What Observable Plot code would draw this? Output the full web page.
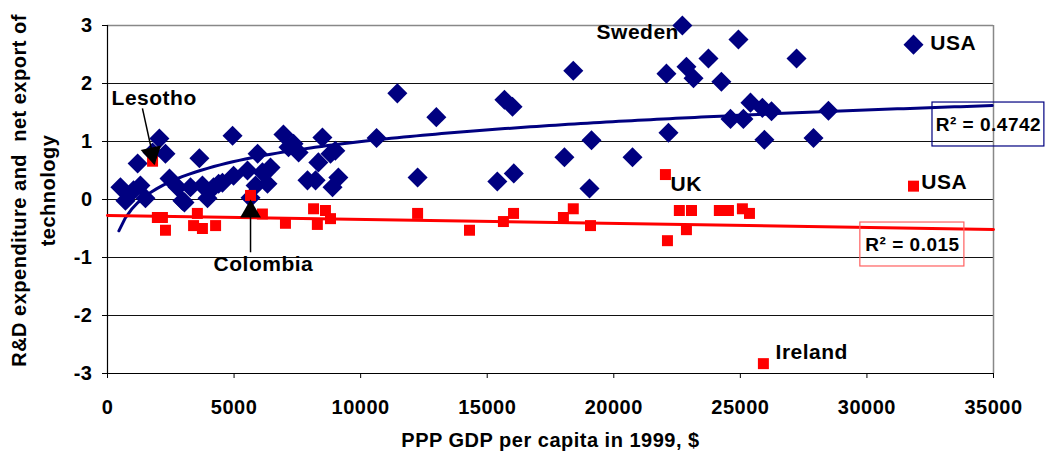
<!DOCTYPE html>
<html>
<head>
<meta charset="utf-8">
<script src="https://cdn.jsdelivr.net/npm/d3@7"></script>
<script src="https://cdn.jsdelivr.net/npm/@observablehq/plot@0.6"></script>
<style>
  html, body { margin: 0; padding: 0; background: #fff; }
  #chart svg { display: block; }
</style>
</head>
<body>
<div id="chart"></div>
<script>
// ---- Data ----
// Blue diamonds: R&D expenditure index
const blueGDP = [510, 710, 1030, 1190, 1300, 1500, 1780, 2050, 2290, 2450, 2770, 2960, 3040, 3280, 3630, 3750, 3950, 4190, 4390, 4540, 4980, 4940, 5530, 5650, 5850, 5930, 6120, 6320, 6440, 6950, 7150, 7350, 7550, 7900, 8220, 8330, 8490, 8810, 8890, 9000, 9120,
  10630, 11450, 12250, 12990, 15400, 15680, 16000, 16050, 18050, 18400, 19040, 19120, 20740, 22080, 22160, 22710, 22870, 23150, 23740, 24250, 24610, 24925, 25120, 25400, 25870, 25950, 26230, 27220, 27890, 28480, 31840];
const blueVal = [0.21, -0.02, 0.16, 0.62, 0.24, 0.02, 0.81, 1.05, 0.79, 0.36, 0.21, -0.02, -0.05, 0.21, 0.71, 0.24, 0.02, 0.21, 0.27, 0.29, 0.41, 1.10, 0.50, 0.03, 0.24, 0.79, 0.47, 0.27, 0.55, 1.12, 0.90, 0.96, 0.81, 0.33, 0.33, 0.64, 1.07, 0.79, 0.21, 0.84, 0.38,
  1.06, 1.83, 0.38, 1.42, 0.31, 1.72, 1.60, 0.45, 0.73, 2.22, 0.19, 1.02, 0.73, 2.17, 1.15, 3.00, 2.29, 2.09, 2.43, 2.03, 1.39, 2.76, 1.39, 1.67, 1.58, 1.03, 1.52, 2.43, 1.06, 1.53, 2.67];

// Red squares: net export of technology
const redGDP = [1780, 1970, 2170, 2290, 3400, 3550, 3750, 4270, 5650, 6120, 7030, 8140, 8290, 8610, 8810, 12250, 14300, 15640, 16040, 18010, 18400, 19080, 22040, 22120, 22590, 22870, 23070, 24170, 24530, 25080, 25360, 25910, 31840];
const redVal = [0.66, -0.31, -0.31, -0.53, -0.45, -0.24, -0.50, -0.45, 0.07, -0.25, -0.41, -0.16, -0.43, -0.19, -0.33, -0.24, -0.53, -0.38, -0.24, -0.31, -0.16, -0.45, 0.43, -0.71, -0.19, -0.52, -0.19, -0.19, -0.19, -0.16, -0.24, -2.83, 0.23];

// Trend lines (coefficients read from the drawn trends)
const blueTrend = {a: -3.57, b: 0.496, from: 450, to: 35000};   // y = a + b ln(x)
const redTrend = {a: -0.275, b: -0.0000069, from: 0, to: 35000}; // y = a + b x
const r2Labels = ["R\u00b2 = 0.4742", "R\u00b2 = 0.015"];

const xTicks = [0, 5000, 10000, 15000, 20000, 25000, 30000, 35000];
const yTicks = [-3, -2, -1, 0, 1, 2, 3];

const labels = [
  {x: 19320, y: 2.88, text: "Sweden"},
  {x: 32500, y: 2.69, text: "USA"},
  {x: 22240, y: 0.26, text: "UK"},
  {x: 32150, y: 0.29, text: "USA"},
  {x: 26390, y: -2.64, text: "Ireland"},
  {x: 160, y: 1.74, text: "Lesotho"},
  {x: 4190, y: -1.12, text: "Colombia"}
];

// ---- Build ----
const blue = blueGDP.map((x, i) => ({x, y: blueVal[i]}));
const red = redGDP.map((x, i) => ({x, y: redVal[i]}));
const blueLine = d3.range(blueTrend.from, blueTrend.to + 1, 250).map(x => ({x, y: blueTrend.a + blueTrend.b * Math.log(x)}));
const redLine = [redTrend.from, redTrend.to].map(x => ({x, y: redTrend.a + redTrend.b * x}));

const font = "'Liberation Sans', Arial, Helvetica, sans-serif";
const plain = d => String(d);

const plot = Plot.plot({
  width: 1050,
  height: 462,
  marginLeft: 107,
  marginRight: 57,
  marginTop: 25,
  marginBottom: 89,
  style: {fontFamily: font, fontWeight: "bold", background: "#fff", color: "#000", overflow: "visible", letterSpacing: "0.5px"},
  x: {domain: [0, 35000], ticks: xTicks, tickFormat: plain},
  y: {domain: [-3, 3], ticks: yTicks, tickFormat: plain},
  marks: [
    Plot.ruleY([-2, -1, 0, 1, 2], {stroke: "#111", strokeWidth: 1}),
    Plot.ruleY([3], {stroke: "#888", strokeWidth: 1.5}),
    Plot.ruleX([35000], {stroke: "#888", strokeWidth: 1.5}),
    Plot.ruleX([0], {stroke: "#000", strokeWidth: 1.2}),
    Plot.ruleY([-3], {stroke: "#000", strokeWidth: 1.2}),
    Plot.axisX({ticks: xTicks, tickFormat: plain, tickSize: 5, tickPadding: 21, fontSize: 20, fontWeight: "bold", label: null, stroke: "#000"}),
    Plot.axisY({ticks: yTicks, tickFormat: plain, tickSize: 5, tickPadding: 10, fontSize: 20, fontWeight: "bold", label: null, stroke: "#000"}),
    Plot.text(["PPP GDP per capita in 1999, $"], {frameAnchor: "bottom", dy: 67, fontSize: 20, fontWeight: "bold", lineAnchor: "middle", textAnchor: "middle"}),
    Plot.text(["R&D expenditure and  net export of"], {frameAnchor: "left", dx: -88, dy: -9, rotate: -90, fontSize: 20, fontWeight: "bold", lineAnchor: "middle", textAnchor: "middle"}),
    Plot.text(["technology"], {frameAnchor: "left", dx: -59, dy: -9, rotate: -90, fontSize: 20, fontWeight: "bold", lineAnchor: "middle", textAnchor: "middle"}),
    // points
    Plot.dot(blue, {x: "x", y: "y", symbol: "square", r: 8, rotate: 45, fill: "#000080", stroke: "none"}),
    Plot.line(blueLine, {x: "x", y: "y", stroke: "#000080", strokeWidth: 3}),
    Plot.dot(red, {x: "x", y: "y", symbol: "square", r: 6.2, fill: "#ff0000", stroke: "none"}),
    Plot.line(redLine, {x: "x", y: "y", stroke: "#ff0000", strokeWidth: 3}),
    // annotation arrows
    Plot.link([{x1: 1380, y1: 1.57, x2: 1860, y2: 0.62}], {x1: "x1", y1: "y1", x2: "x2", y2: "y2", stroke: "#000", strokeWidth: 1.5}),
    Plot.dot([{x: 1860, y: 0.59}], {x: "x", y: "y", symbol: "triangle", r: 7.7, rotate: 168, dx: -2.5, dy: -11.7, fill: "#000", stroke: "none"}),
    Plot.link([{x1: 5650, y1: -0.91, x2: 5650, y2: -0.1}], {x1: "x1", y1: "y1", x2: "x2", y2: "y2", stroke: "#000", strokeWidth: 1.5}),
    Plot.dot([{x: 5650, y: 0.0}], {x: "x", y: "y", symbol: "triangle", r: 7.7, dy: 12, fill: "#000", stroke: "none"}),
    // labels
    Plot.text(labels, {x: "x", y: "y", text: "text", textAnchor: "start", lineAnchor: "middle", fontSize: 21, fontWeight: "bold", fill: "#000"}),
    // R² boxes
    Plot.rect([{x1: 32590, x2: 37010, y1: 1.672, y2: 0.914}], {x1: "x1", x2: "x2", y1: "y1", y2: "y2", fill: "none", stroke: "#000080", strokeWidth: 1.2, clip: false}),
    Plot.text([{x: 34800, y: 1.293, t: r2Labels[0]}], {x: "x", y: "y", text: "t", fontSize: 19, fontWeight: "bold", lineAnchor: "middle", clip: false}),
    Plot.rect([{x1: 29740, x2: 33850, y1: -0.397, y2: -1.155}], {x1: "x1", x2: "x2", y1: "y1", y2: "y2", fill: "none", stroke: "#ff6060", strokeWidth: 1.2}),
    Plot.text([{x: 31800, y: -0.776, t: r2Labels[1]}], {x: "x", y: "y", text: "t", fontSize: 19, fontWeight: "bold", lineAnchor: "middle"})
  ]
});
document.getElementById("chart").appendChild(plot);
</script>
</body>
</html>
